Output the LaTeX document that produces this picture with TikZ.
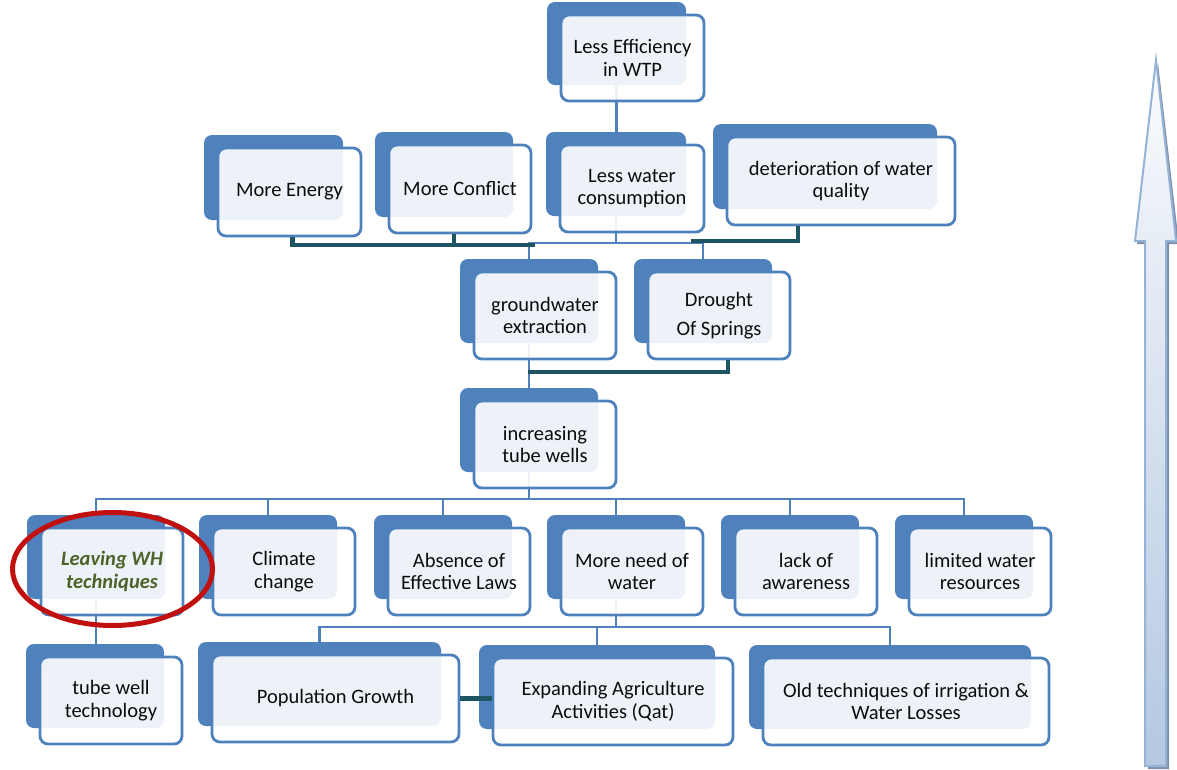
\documentclass[tikz,border=0pt]{standalone}
\usepackage{fontspec}
\setmainfont{Carlito}
\usetikzlibrary{calc}

\definecolor{boxblue}{RGB}{79,129,189}
\definecolor{linkdark}{RGB}{30,85,98}
\definecolor{txt}{RGB}{12,12,12}
\definecolor{olivetxt}{RGB}{79,98,40}
\definecolor{ringred}{RGB}{192,16,16}
\definecolor{arrowline}{RGB}{149,179,215}
\definecolor{arrowtop}{RGB}{250,251,253}
\definecolor{arrowbot}{RGB}{180,200,226}
\definecolor{arrowshadow}{RGB}{130,145,170}

\pgfdeclarelayer{links}
\pgfsetlayers{links,main}

\tikzset{
  backbox/.style={fill=boxblue, rounded corners=8pt, inner sep=0pt},
  frontbox/.style={draw=boxblue, line width=2.8pt, fill=white, fill opacity=0.9,
    text opacity=1, rounded corners=8pt, align=center, text=txt,
    font=\fontsize{20.5}{22.5}\selectfont, inner sep=2pt},
  link/.style={draw=boxblue, line width=2.6pt},
  heavylink/.style={draw=linkdark, line width=4.2pt},
}

% name, centre x, centre y, width, height, text
\newcommand\causebox[6]{%
  \node[backbox, minimum width={#4pt-4pt}, minimum height={#5pt-3pt}] (#1-b) at (#2-16,#3-14.5) {};
  \node[frontbox, minimum width={#4pt}, minimum height={#5pt}] (#1) at (#2,#3) {#6};
}

\begin{document}
\begin{tikzpicture}[x=1pt,y=-1pt]
\useasboundingbox (0,0) rectangle (1177,769);

% effects
\causebox{eff}{632.5}{58}{143}{86}{Less Efficiency\\in WTP}
\causebox{energy}{289.5}{192}{143}{88}{More Energy}
\causebox{conflict}{460}{189}{142}{88}{More Conflict}
\causebox{water}{632}{188.5}{144}{87}{Less water\\consumption}
\causebox{qual}{841}{181}{228}{88}{deterioration of water\\quality}
\causebox{ground}{545}{315.5}{142}{87}{groundwater\\extraction}
\causebox{drought}{719}{315.5}{142}{87}{Drought\\[7pt]Of Springs}
% core problem
\causebox{wells}{545}{444.5}{142}{87}{increasing\\tube wells}
% causes
\causebox{leave}{112}{571.5}{142}{87}{\color{olivetxt}\bfseries\itshape Leaving WH\\\color{olivetxt}\bfseries\itshape techniques}
\causebox{climate}{284}{571.5}{142}{87}{Climate\\change}
\causebox{laws}{459}{571.5}{142}{87}{Absence of\\Effective Laws}
\causebox{need}{632}{571.5}{142}{87}{More need of\\water}
\causebox{aware}{806}{571.5}{142}{87}{lack of\\awareness}
\causebox{limited}{980}{571.5}{142}{87}{limited water\\resources}
\causebox{tech}{111}{700.5}{142}{87}{tube well\\technology}
\causebox{pop}{335.5}{698.5}{247}{87}{Population Growth}
\causebox{agri}{613}{701.5}{240}{87}{Expanding Agriculture\\Activities (Qat)}
\causebox{old}{906}{701.5}{286}{87}{Old techniques of irrigation \&\\Water Losses}

% tree connectors behind the boxes
\coordinate (busA) at (616,243);
\coordinate (busB) at (529,499);
\coordinate (busC) at (616,627);
\begin{pgfonlayer}{links}
  \draw[link] (eff-b.south) -- (eff-b.south |- water-b.north);
  \draw[link] (water-b.south) -- (water-b.south |- busA);
  \draw[link] (ground-b.north) -- (ground-b.north |- busA) -- (drought-b.north |- busA) -- (drought-b.north);
  \draw[link] (ground-b.south) -- (ground-b.south |- wells-b.north);
  \draw[link] (wells-b.south) -- (wells-b.south |- busB);
  \draw[link] (leave-b.north) -- (leave-b.north |- busB) -- (limited-b.north |- busB) -- (limited-b.north);
  \foreach \n in {climate,laws,need,aware}
    \draw[link] (\n-b.north) -- (\n-b.north |- busB);
  \draw[link] (leave-b.south) -- (leave-b.south |- tech-b.north);
  \draw[link] (need-b.south) -- (need-b.south |- busC);
  \draw[link] (pop-b.north) -- (pop-b.north |- busC) -- (old-b.north |- busC) -- (old-b.north);
  \draw[link] (agri-b.north) -- (agri-b.north |- busC);
\end{pgfonlayer}

% heavy links
\coordinate (hvL) at (535,245);
\coordinate (hvR) at (691,241);
\coordinate (grfoot) at (528,372);
\coordinate (enfoot) at ($(energy.south)+(3,0)$);
\coordinate (cofoot) at ($(conflict.south)+(-6,0)$);
\coordinate (qufoot) at ($(qual.south)+(-43,0)$);
\coordinate (drfoot) at ($(drought.south)+(9,0)$);
\draw[heavylink] (enfoot) |- (hvL);
\draw[heavylink] (cofoot) -- (cofoot |- hvL);
\draw[heavylink] (qufoot) |- (hvR);
\draw[heavylink] (drfoot) |- (grfoot);
\draw[heavylink] (pop.east) -- (pop.east -| agri.west);

% highlight ring
\draw[ringred, line width=5pt] (112.5,569) ellipse [x radius=100, y radius=56.5];

% upward block arrow
\fill[arrowshadow] (1158,63) -- (1179,244) -- (1169,244) -- (1169,769) -- (1148,769)
  -- (1148,244) -- (1137,244) -- cycle;
\shade[top color=arrowtop, bottom color=arrowbot, draw=arrowline, line width=2pt]
  (1156,60) -- (1176,241) -- (1166,241) -- (1166,766) -- (1145,766)
  -- (1145,241) -- (1135,241) -- cycle;
\end{tikzpicture}
\end{document}
